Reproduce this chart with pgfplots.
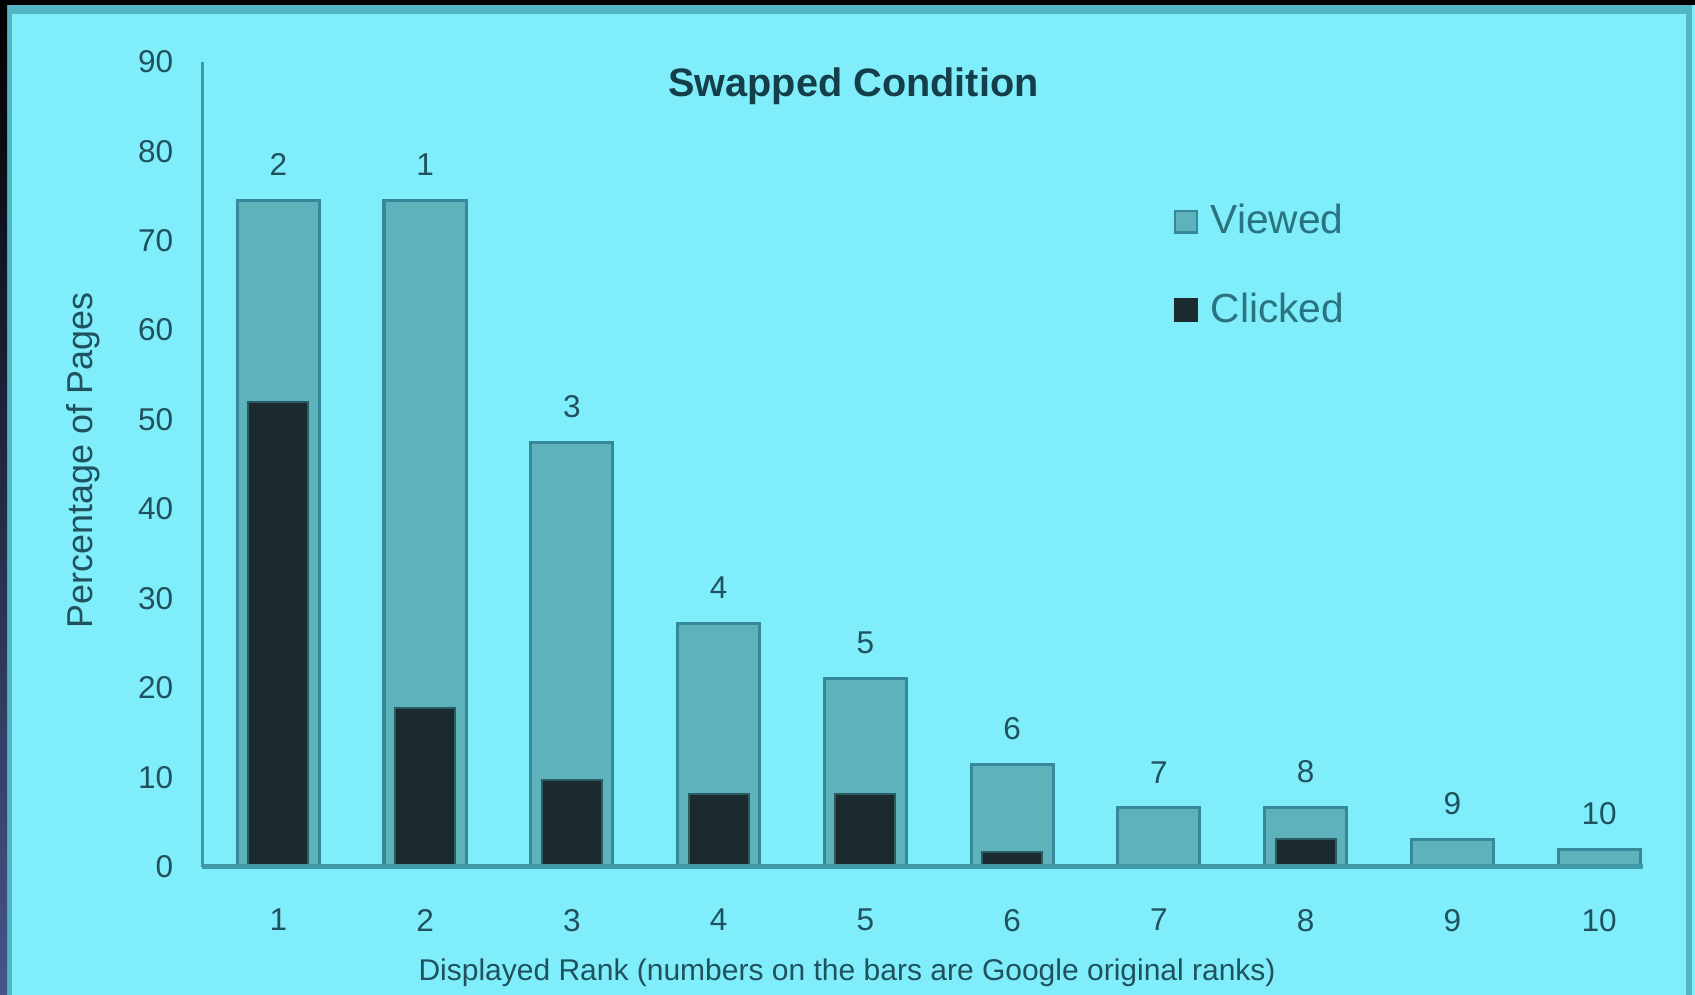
\documentclass[border=0pt]{standalone}
\usepackage{fontspec}
\setmainfont{Liberation Sans}
\usepackage{pgfplots}
\usepackage{pgfplotstable}
\pgfplotsset{compat=1.18}

\definecolor{bg}{HTML}{80EEFA}
\definecolor{framec}{HTML}{52B6C3}
\definecolor{navy}{HTML}{46548A}
\definecolor{viewedc}{HTML}{5DB2BC}
\definecolor{viewedb}{HTML}{35899A}
\definecolor{clickedc}{HTML}{1B2A2E}
\definecolor{clickedb}{HTML}{2B5C64}
\definecolor{axisc}{HTML}{3E9AA6}
\definecolor{textc}{HTML}{1F525E}
\definecolor{titlec}{HTML}{143F4A}
\definecolor{legendc}{HTML}{2A7380}

% displayed rank, viewed %, clicked %, Google original rank
\pgfplotstableread{
rank viewed clicked orig
1  74.5 52.0 2
2  74.5 17.7 1
3  47.4 9.7  3
4  27.2 8.1  4
5  21.0 8.1  5
6  11.4 1.7  6
7  6.6  0    7
8  6.6  3.1  8
9  3.1  0    9
10 1.9  0    10
}\ranks

\begin{document}
\begin{tikzpicture}
\useasboundingbox (0,0) rectangle (500pt,293.5pt);
% background and frame
\fill[bg] (0,0) rectangle (500pt,293.5pt);
\fill[framec] (2.1pt,0) rectangle (3.6pt,292pt);
\fill[framec] (2.1pt,289.4pt) rectangle (499.1pt,292pt);
\fill[framec] (497.3pt,0) rectangle (499.1pt,292pt);
\fill[black] (0,292pt) rectangle (500pt,293.5pt);
\shade[top color=black, bottom color=navy] (0,0) rectangle (2.1pt,293.5pt);

\begin{axis}[
  at={(59.6pt,37.8pt)}, anchor=south west,
  scale only axis, width=425.1pt, height=237.5pt,
  xmin=0.48, xmax=10.3, ymin=0, ymax=90,
  axis x line=bottom, axis y line=left,
  x axis line style={-, line width=1.4pt, color=axisc},
  y axis line style={-, line width=0.9pt, color=axisc},
  xtick={1,...,10}, ytick={0,10,...,90},
  major tick length=0pt,
  tick label style={font=\fontsize{9.3}{11}\selectfont, color=textc},
  /pgf/number format/assume math mode=true,
  xticklabel style={yshift=-9pt},
  yticklabel style={xshift=-5pt},
  every axis title shift=0pt,
  title={Swapped Condition},
  title style={at={(axis description cs:0.452,0.969)}, anchor=center,
    font=\bfseries\fontsize{11.7}{14}\selectfont, color=titlec},
  xlabel={Displayed Rank (numbers on the bars are Google original ranks)},
  xlabel style={at={(axis description cs:0.4476,-0.1316)}, anchor=center,
    font=\fontsize{8.85}{11}\selectfont, color=textc},
  ylabel={Percentage of Pages},
  ylabel style={at={(axis description cs:-0.0826,0.505)}, anchor=center,
    font=\fontsize{10.6}{12}\selectfont, color=textc},
  legend style={draw=none, fill=none, at={(axis description cs:0.674,0.83)},
    anchor=north west, font=\fontsize{12}{14}\selectfont, text=legendc,
    row sep=13pt, inner sep=0pt, nodes={inner sep=1.5pt},
    /tikz/every odd column/.append style={column sep=2.2pt}},
  legend cell align=left,
  axis on top,
]
\addplot[ybar, bar shift=0pt, bar width=0.56, fill=viewedc, draw=viewedb,
  line width=0.9pt, nodes near coords, point meta=explicit symbolic,
  every node near coord/.style={anchor=south, yshift=3.5pt,
    font=\fontsize{9.3}{11}\selectfont, color=textc},
  legend image code/.code={\draw[fill=viewedc, draw=viewedb, line width=0.7pt]
    (0pt,-3.2pt) rectangle (6.4pt,3.2pt);}]
  table[x=rank, y=viewed, meta=orig] {\ranks};
\addlegendentry{Viewed}
\addplot[ybar, bar shift=0pt, bar width=0.41, fill=clickedc, draw=clickedb,
  line width=0.6pt,
  legend image code/.code={\draw[fill=clickedc, draw=clickedc, line width=0.7pt]
    (0pt,-3.2pt) rectangle (6.4pt,3.2pt);}]
  table[x=rank, y=clicked] {\ranks};
\addlegendentry{Clicked}
\end{axis}
\end{tikzpicture}
\end{document}
